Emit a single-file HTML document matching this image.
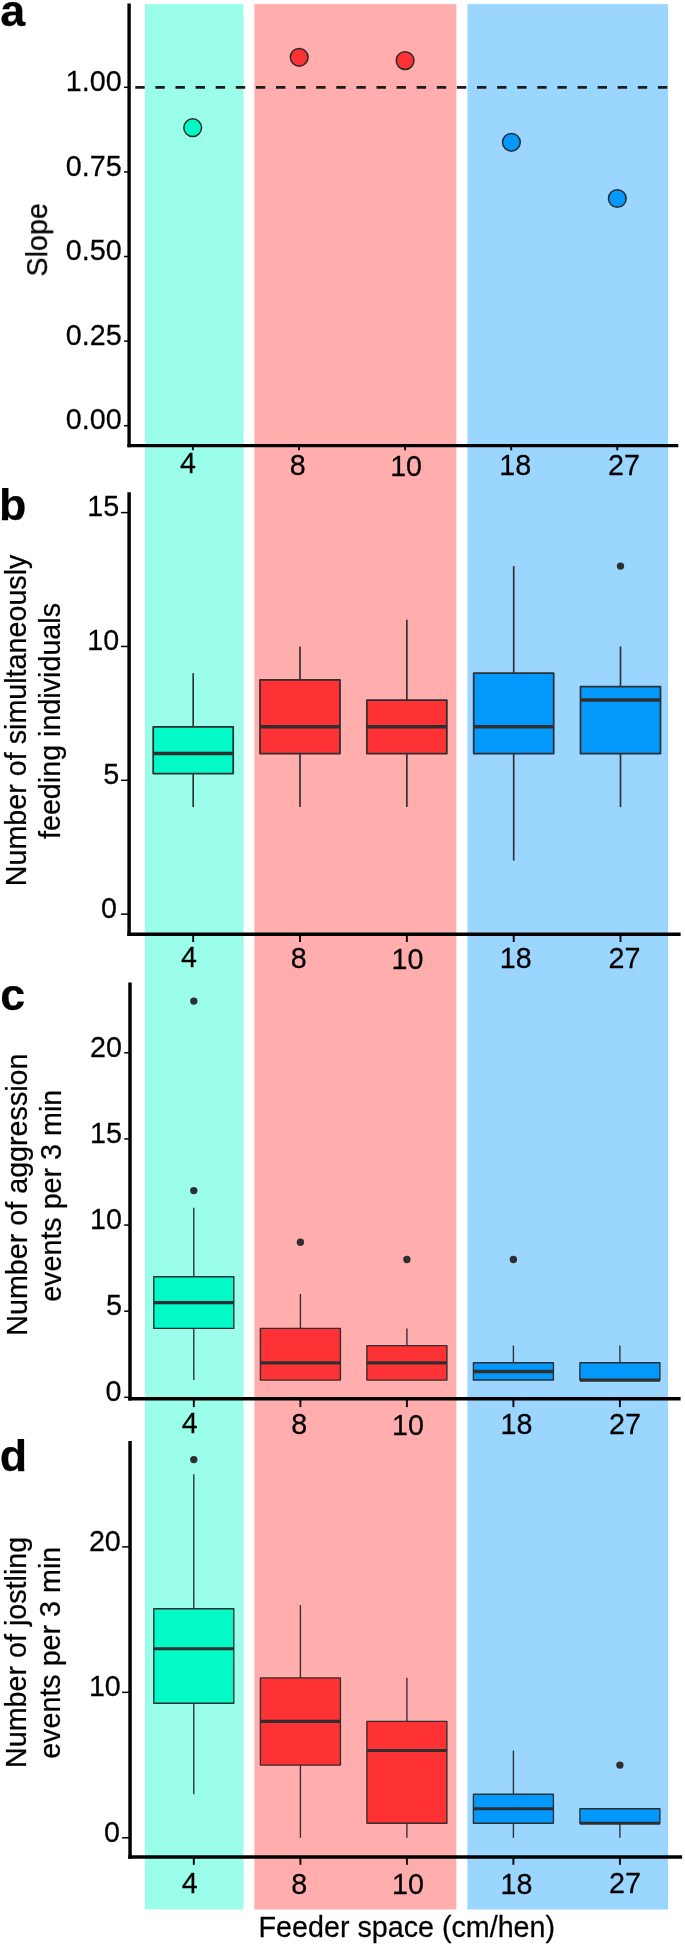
<!DOCTYPE html>
<html><head><meta charset="utf-8"><title>Figure</title>
<style>html,body{margin:0;padding:0;background:#fff}body{width:685px;height:1947px;overflow:hidden}</style>
</head><body>
<svg width="685" height="1947" viewBox="0 0 685 1947" style="display:block">
<rect width="685" height="1947" fill="#fff"/>
<rect x="144.9" y="4.1" width="98.6" height="1905.4" fill="#9afeea"/>
<rect x="254.4" y="4.1" width="202.0" height="1905.4" fill="#ffadad"/>
<rect x="467.4" y="4.1" width="200.7" height="1905.4" fill="#9ad6ff"/>
<g font-family="'Liberation Sans', sans-serif" fill="#000" opacity="0.999" stroke-linejoin="round">
<line x1="129.10" y1="3.50" x2="129.10" y2="447.35" stroke="#000" stroke-width="3.40"/>
<line x1="127.40" y1="445.70" x2="678.30" y2="445.70" stroke="#000" stroke-width="3.30"/>
<line x1="124.0" y1="87.30" x2="129.1" y2="87.30" stroke="#000" stroke-width="1.5"/>
<text transform="translate(121.60 91.00) scale(1 1.040)" text-anchor="end" font-size="28.70" font-weight="normal" stroke="#000" stroke-width="0.25">1.00</text>
<line x1="124.0" y1="171.90" x2="129.1" y2="171.90" stroke="#000" stroke-width="1.5"/>
<text transform="translate(121.60 175.60) scale(1 1.040)" text-anchor="end" font-size="28.70" font-weight="normal" stroke="#000" stroke-width="0.25">0.75</text>
<line x1="124.0" y1="256.50" x2="129.1" y2="256.50" stroke="#000" stroke-width="1.5"/>
<text transform="translate(121.60 260.20) scale(1 1.040)" text-anchor="end" font-size="28.70" font-weight="normal" stroke="#000" stroke-width="0.25">0.50</text>
<line x1="124.0" y1="341.10" x2="129.1" y2="341.10" stroke="#000" stroke-width="1.5"/>
<text transform="translate(121.60 344.80) scale(1 1.040)" text-anchor="end" font-size="28.70" font-weight="normal" stroke="#000" stroke-width="0.25">0.25</text>
<line x1="124.0" y1="425.70" x2="129.1" y2="425.70" stroke="#000" stroke-width="1.5"/>
<text transform="translate(121.60 429.40) scale(1 1.040)" text-anchor="end" font-size="28.70" font-weight="normal" stroke="#000" stroke-width="0.25">0.00</text>
<line x1="192.90" y1="445.7" x2="192.90" y2="450.3" stroke="#000" stroke-width="1.9"/>
<text transform="translate(188.00 473.30) scale(1 1.040)" text-anchor="middle" font-size="28.70" font-weight="normal" stroke="#000" stroke-width="0.25">4</text>
<line x1="299.00" y1="445.7" x2="299.00" y2="450.3" stroke="#000" stroke-width="1.9"/>
<text transform="translate(297.80 474.70) scale(1 1.040)" text-anchor="middle" font-size="28.70" font-weight="normal" stroke="#000" stroke-width="0.25">8</text>
<line x1="405.10" y1="445.7" x2="405.10" y2="450.3" stroke="#000" stroke-width="1.9"/>
<text transform="translate(406.10 476.10) scale(1 1.040)" text-anchor="middle" font-size="28.70" font-weight="normal" stroke="#000" stroke-width="0.25">10</text>
<line x1="511.20" y1="445.7" x2="511.20" y2="450.3" stroke="#000" stroke-width="1.9"/>
<text transform="translate(515.30 474.70) scale(1 1.040)" text-anchor="middle" font-size="28.70" font-weight="normal" stroke="#000" stroke-width="0.25">18</text>
<line x1="617.30" y1="445.7" x2="617.30" y2="450.3" stroke="#000" stroke-width="1.9"/>
<text transform="translate(624.00 474.70) scale(1 1.040)" text-anchor="middle" font-size="28.70" font-weight="normal" stroke="#000" stroke-width="0.25">27</text>
<text transform="translate(0.30 25.50) scale(1 1.000)" text-anchor="start" font-size="44.80" font-weight="bold" stroke="#000" stroke-width="0.25">a</text>
<line x1="129.10" y1="492.20" x2="129.10" y2="936.00" stroke="#000" stroke-width="3.50"/>
<line x1="127.35" y1="934.25" x2="680.60" y2="934.25" stroke="#000" stroke-width="3.50"/>
<line x1="121.0" y1="512.60" x2="129.1" y2="512.60" stroke="#000" stroke-width="1.5"/>
<text transform="translate(119.20 516.30) scale(1 1.040)" text-anchor="end" font-size="28.70" font-weight="normal" stroke="#000" stroke-width="0.25">15</text>
<line x1="121.0" y1="646.45" x2="129.1" y2="646.45" stroke="#000" stroke-width="1.5"/>
<text transform="translate(119.20 650.15) scale(1 1.040)" text-anchor="end" font-size="28.70" font-weight="normal" stroke="#000" stroke-width="0.25">10</text>
<line x1="121.0" y1="780.30" x2="129.1" y2="780.30" stroke="#000" stroke-width="1.5"/>
<text transform="translate(119.20 784.00) scale(1 1.040)" text-anchor="end" font-size="28.70" font-weight="normal" stroke="#000" stroke-width="0.25">5</text>
<line x1="121.0" y1="914.15" x2="129.1" y2="914.15" stroke="#000" stroke-width="1.5"/>
<text transform="translate(117.00 917.85) scale(1 1.040)" text-anchor="end" font-size="28.70" font-weight="normal" stroke="#000" stroke-width="0.25">0</text>
<line x1="193.20" y1="934.2" x2="193.20" y2="942.0" stroke="#000" stroke-width="1.9"/>
<text transform="translate(189.10 966.50) scale(1 1.040)" text-anchor="middle" font-size="28.70" font-weight="normal" stroke="#000" stroke-width="0.25">4</text>
<line x1="300.00" y1="934.2" x2="300.00" y2="942.0" stroke="#000" stroke-width="1.9"/>
<text transform="translate(298.80 967.70) scale(1 1.040)" text-anchor="middle" font-size="28.70" font-weight="normal" stroke="#000" stroke-width="0.25">8</text>
<line x1="406.85" y1="934.2" x2="406.85" y2="942.0" stroke="#000" stroke-width="1.9"/>
<text transform="translate(407.40 969.20) scale(1 1.040)" text-anchor="middle" font-size="28.70" font-weight="normal" stroke="#000" stroke-width="0.25">10</text>
<line x1="513.70" y1="934.2" x2="513.70" y2="942.0" stroke="#000" stroke-width="1.9"/>
<text transform="translate(515.70 967.70) scale(1 1.040)" text-anchor="middle" font-size="28.70" font-weight="normal" stroke="#000" stroke-width="0.25">18</text>
<line x1="620.50" y1="934.2" x2="620.50" y2="942.0" stroke="#000" stroke-width="1.9"/>
<text transform="translate(624.50 967.50) scale(1 1.040)" text-anchor="middle" font-size="28.70" font-weight="normal" stroke="#000" stroke-width="0.25">27</text>
<text transform="translate(-0.90 519.60) scale(1 1.000)" text-anchor="start" font-size="44.80" font-weight="bold" stroke="#000" stroke-width="0.25">b</text>
<line x1="130.00" y1="982.40" x2="130.00" y2="1400.40" stroke="#000" stroke-width="3.50"/>
<line x1="128.25" y1="1398.65" x2="680.60" y2="1398.65" stroke="#000" stroke-width="3.50"/>
<line x1="124.2" y1="1052.80" x2="130.0" y2="1052.80" stroke="#000" stroke-width="1.5"/>
<text transform="translate(122.00 1056.50) scale(1 1.040)" text-anchor="end" font-size="28.70" font-weight="normal" stroke="#000" stroke-width="0.25">20</text>
<line x1="124.2" y1="1138.92" x2="130.0" y2="1138.92" stroke="#000" stroke-width="1.5"/>
<text transform="translate(122.00 1142.62) scale(1 1.040)" text-anchor="end" font-size="28.70" font-weight="normal" stroke="#000" stroke-width="0.25">15</text>
<line x1="124.2" y1="1225.05" x2="130.0" y2="1225.05" stroke="#000" stroke-width="1.5"/>
<text transform="translate(122.00 1228.75) scale(1 1.040)" text-anchor="end" font-size="28.70" font-weight="normal" stroke="#000" stroke-width="0.25">10</text>
<line x1="124.2" y1="1311.17" x2="130.0" y2="1311.17" stroke="#000" stroke-width="1.5"/>
<text transform="translate(122.00 1314.88) scale(1 1.040)" text-anchor="end" font-size="28.70" font-weight="normal" stroke="#000" stroke-width="0.25">5</text>
<line x1="124.2" y1="1397.30" x2="130.0" y2="1397.30" stroke="#000" stroke-width="1.5"/>
<text transform="translate(121.40 1401.00) scale(1 1.040)" text-anchor="end" font-size="28.70" font-weight="normal" stroke="#000" stroke-width="0.25">0</text>
<line x1="193.80" y1="1398.7" x2="193.80" y2="1407.1" stroke="#000" stroke-width="1.9"/>
<text transform="translate(189.70 1433.20) scale(1 1.040)" text-anchor="middle" font-size="28.70" font-weight="normal" stroke="#000" stroke-width="0.25">4</text>
<line x1="300.40" y1="1398.7" x2="300.40" y2="1407.1" stroke="#000" stroke-width="1.9"/>
<text transform="translate(299.30 1434.30) scale(1 1.040)" text-anchor="middle" font-size="28.70" font-weight="normal" stroke="#000" stroke-width="0.25">8</text>
<line x1="406.90" y1="1398.7" x2="406.90" y2="1407.1" stroke="#000" stroke-width="1.9"/>
<text transform="translate(408.00 1435.00) scale(1 1.040)" text-anchor="middle" font-size="28.70" font-weight="normal" stroke="#000" stroke-width="0.25">10</text>
<line x1="513.40" y1="1398.7" x2="513.40" y2="1407.1" stroke="#000" stroke-width="1.9"/>
<text transform="translate(516.40 1433.80) scale(1 1.040)" text-anchor="middle" font-size="28.70" font-weight="normal" stroke="#000" stroke-width="0.25">18</text>
<line x1="619.90" y1="1398.7" x2="619.90" y2="1407.1" stroke="#000" stroke-width="1.9"/>
<text transform="translate(624.90 1433.80) scale(1 1.040)" text-anchor="middle" font-size="28.70" font-weight="normal" stroke="#000" stroke-width="0.25">27</text>
<text transform="translate(0.30 1009.60) scale(1 1.000)" text-anchor="start" font-size="44.80" font-weight="bold" stroke="#000" stroke-width="0.25">c</text>
<line x1="130.05" y1="1441.10" x2="130.05" y2="1858.73" stroke="#000" stroke-width="3.50"/>
<line x1="128.30" y1="1856.95" x2="682.10" y2="1856.95" stroke="#000" stroke-width="3.55"/>
<line x1="122.1" y1="1546.90" x2="130.1" y2="1546.90" stroke="#000" stroke-width="1.5"/>
<text transform="translate(120.80 1550.60) scale(1 1.040)" text-anchor="end" font-size="28.70" font-weight="normal" stroke="#000" stroke-width="0.25">20</text>
<line x1="122.1" y1="1692.35" x2="130.1" y2="1692.35" stroke="#000" stroke-width="1.5"/>
<text transform="translate(120.80 1696.05) scale(1 1.040)" text-anchor="end" font-size="28.70" font-weight="normal" stroke="#000" stroke-width="0.25">10</text>
<line x1="122.1" y1="1837.80" x2="130.1" y2="1837.80" stroke="#000" stroke-width="1.5"/>
<text transform="translate(120.00 1841.50) scale(1 1.040)" text-anchor="end" font-size="28.70" font-weight="normal" stroke="#000" stroke-width="0.25">0</text>
<line x1="193.80" y1="1857.0" x2="193.80" y2="1864.8" stroke="#000" stroke-width="1.9"/>
<text transform="translate(189.70 1892.60) scale(1 1.040)" text-anchor="middle" font-size="28.70" font-weight="normal" stroke="#000" stroke-width="0.25">4</text>
<line x1="300.40" y1="1857.0" x2="300.40" y2="1864.8" stroke="#000" stroke-width="1.9"/>
<text transform="translate(299.30 1893.70) scale(1 1.040)" text-anchor="middle" font-size="28.70" font-weight="normal" stroke="#000" stroke-width="0.25">8</text>
<line x1="406.90" y1="1857.0" x2="406.90" y2="1864.8" stroke="#000" stroke-width="1.9"/>
<text transform="translate(408.00 1894.40) scale(1 1.040)" text-anchor="middle" font-size="28.70" font-weight="normal" stroke="#000" stroke-width="0.25">10</text>
<line x1="513.40" y1="1857.0" x2="513.40" y2="1864.8" stroke="#000" stroke-width="1.9"/>
<text transform="translate(516.40 1893.50) scale(1 1.040)" text-anchor="middle" font-size="28.70" font-weight="normal" stroke="#000" stroke-width="0.25">18</text>
<line x1="619.90" y1="1857.0" x2="619.90" y2="1864.8" stroke="#000" stroke-width="1.9"/>
<text transform="translate(624.90 1893.20) scale(1 1.040)" text-anchor="middle" font-size="28.70" font-weight="normal" stroke="#000" stroke-width="0.25">27</text>
<text transform="translate(-0.30 1471.40) scale(1 1.000)" text-anchor="start" font-size="44.80" font-weight="bold" stroke="#000" stroke-width="0.25">d</text>
<line x1="135.3" y1="87.4" x2="668" y2="87.4" stroke="#1c1c1c" stroke-width="2.8" stroke-dasharray="9.4 10.7"/>
<circle cx="192.7" cy="127.7" r="8.85" fill="#02fac7" stroke="#2a2a2a" stroke-width="1.5"/>
<circle cx="299.2" cy="57.3" r="8.85" fill="#fe3235" stroke="#2a2a2a" stroke-width="1.5"/>
<circle cx="405.1" cy="60.6" r="8.85" fill="#fe3235" stroke="#2a2a2a" stroke-width="1.5"/>
<circle cx="511.4" cy="142.3" r="8.85" fill="#0399fc" stroke="#2a2a2a" stroke-width="1.5"/>
<circle cx="617.3" cy="198.5" r="8.85" fill="#0399fc" stroke="#2a2a2a" stroke-width="1.5"/>
<text transform="translate(47.10 239.80) rotate(-90)" text-anchor="middle" font-size="28.70" stroke="#000" stroke-width="0.25">Slope</text>
<line x1="193.20" y1="673.2" x2="193.20" y2="726.8" stroke="#2f2f2f" stroke-width="1.65"/>
<line x1="193.20" y1="773.6" x2="193.20" y2="807.1" stroke="#2f2f2f" stroke-width="1.65"/>
<rect x="153.20" y="726.8" width="80.0" height="46.8" fill="#02fac7" stroke="#2f2f2f" stroke-width="1.75"/>
<line x1="153.20" y1="753.5" x2="233.20" y2="753.5" stroke="#2f2f2f" stroke-width="3.50"/>
<line x1="300.00" y1="646.5" x2="300.00" y2="679.9" stroke="#2f2f2f" stroke-width="1.65"/>
<line x1="300.00" y1="753.5" x2="300.00" y2="807.1" stroke="#2f2f2f" stroke-width="1.65"/>
<rect x="260.00" y="679.9" width="80.0" height="73.6" fill="#fe3235" stroke="#2f2f2f" stroke-width="1.75"/>
<line x1="260.00" y1="726.8" x2="340.00" y2="726.8" stroke="#2f2f2f" stroke-width="3.50"/>
<line x1="406.85" y1="619.7" x2="406.85" y2="700.0" stroke="#2f2f2f" stroke-width="1.65"/>
<line x1="406.85" y1="753.5" x2="406.85" y2="807.1" stroke="#2f2f2f" stroke-width="1.65"/>
<rect x="366.85" y="700.0" width="80.0" height="53.5" fill="#fe3235" stroke="#2f2f2f" stroke-width="1.75"/>
<line x1="366.85" y1="726.8" x2="446.85" y2="726.8" stroke="#2f2f2f" stroke-width="3.50"/>
<line x1="513.70" y1="566.1" x2="513.70" y2="673.2" stroke="#2f2f2f" stroke-width="1.65"/>
<line x1="513.70" y1="753.5" x2="513.70" y2="860.6" stroke="#2f2f2f" stroke-width="1.65"/>
<rect x="473.70" y="673.2" width="80.0" height="80.3" fill="#0399fc" stroke="#2f2f2f" stroke-width="1.75"/>
<line x1="473.70" y1="726.8" x2="553.70" y2="726.8" stroke="#2f2f2f" stroke-width="3.50"/>
<line x1="620.50" y1="646.5" x2="620.50" y2="686.6" stroke="#2f2f2f" stroke-width="1.65"/>
<line x1="620.50" y1="753.5" x2="620.50" y2="807.1" stroke="#2f2f2f" stroke-width="1.65"/>
<rect x="580.50" y="686.6" width="80.0" height="66.9" fill="#0399fc" stroke="#2f2f2f" stroke-width="1.75"/>
<line x1="580.50" y1="700.0" x2="660.50" y2="700.0" stroke="#2f2f2f" stroke-width="3.50"/>
<circle cx="620.50" cy="566.1" r="3.7" fill="#2f2f2f"/>
<text transform="translate(25.80 720.40) rotate(-90)" text-anchor="middle" font-size="28.70" stroke="#000" stroke-width="0.25">Number of simultaneously</text>
<text transform="translate(59.80 721.00) rotate(-90)" text-anchor="middle" font-size="28.70" stroke="#000" stroke-width="0.25">feeding individuals</text>
<line x1="193.80" y1="1207.8" x2="193.80" y2="1276.7" stroke="#2f2f2f" stroke-width="1.35"/>
<line x1="193.80" y1="1328.4" x2="193.80" y2="1380.1" stroke="#2f2f2f" stroke-width="1.35"/>
<rect x="153.80" y="1276.7" width="80.0" height="51.7" fill="#02fac7" stroke="#2f2f2f" stroke-width="1.40"/>
<line x1="153.80" y1="1302.6" x2="233.80" y2="1302.6" stroke="#2f2f2f" stroke-width="3.30"/>
<circle cx="193.80" cy="1190.6" r="3.7" fill="#2f2f2f"/>
<circle cx="193.80" cy="1001.1" r="3.7" fill="#2f2f2f"/>
<line x1="300.40" y1="1294.0" x2="300.40" y2="1328.4" stroke="#2f2f2f" stroke-width="1.35"/>
<line x1="300.40" y1="1380.1" x2="300.40" y2="1380.1" stroke="#2f2f2f" stroke-width="1.35"/>
<rect x="260.40" y="1328.4" width="80.0" height="51.7" fill="#fe3235" stroke="#2f2f2f" stroke-width="1.40"/>
<line x1="260.40" y1="1362.8" x2="340.40" y2="1362.8" stroke="#2f2f2f" stroke-width="3.30"/>
<circle cx="300.40" cy="1242.3" r="3.7" fill="#2f2f2f"/>
<line x1="406.90" y1="1328.4" x2="406.90" y2="1345.6" stroke="#2f2f2f" stroke-width="1.35"/>
<line x1="406.90" y1="1380.1" x2="406.90" y2="1380.1" stroke="#2f2f2f" stroke-width="1.35"/>
<rect x="366.90" y="1345.6" width="80.0" height="34.5" fill="#fe3235" stroke="#2f2f2f" stroke-width="1.40"/>
<line x1="366.90" y1="1362.8" x2="446.90" y2="1362.8" stroke="#2f2f2f" stroke-width="3.30"/>
<circle cx="406.90" cy="1259.5" r="3.7" fill="#2f2f2f"/>
<line x1="513.40" y1="1345.6" x2="513.40" y2="1362.8" stroke="#2f2f2f" stroke-width="1.35"/>
<line x1="513.40" y1="1380.1" x2="513.40" y2="1380.1" stroke="#2f2f2f" stroke-width="1.35"/>
<rect x="473.40" y="1362.8" width="80.0" height="17.2" fill="#0399fc" stroke="#2f2f2f" stroke-width="1.40"/>
<line x1="473.40" y1="1371.5" x2="553.40" y2="1371.5" stroke="#2f2f2f" stroke-width="3.30"/>
<circle cx="513.40" cy="1259.5" r="3.7" fill="#2f2f2f"/>
<line x1="619.90" y1="1345.6" x2="619.90" y2="1362.8" stroke="#2f2f2f" stroke-width="1.35"/>
<line x1="619.90" y1="1380.1" x2="619.90" y2="1380.1" stroke="#2f2f2f" stroke-width="1.35"/>
<rect x="579.90" y="1362.8" width="80.0" height="17.2" fill="#0399fc" stroke="#2f2f2f" stroke-width="1.40"/>
<line x1="579.90" y1="1380.1" x2="659.90" y2="1380.1" stroke="#2f2f2f" stroke-width="3.30"/>
<text transform="translate(27.10 1194.60) rotate(-90)" text-anchor="middle" font-size="28.70" stroke="#000" stroke-width="0.25">Number of aggression</text>
<text transform="translate(60.60 1195.80) rotate(-90)" text-anchor="middle" font-size="28.70" stroke="#000" stroke-width="0.25">events per 3 min</text>
<line x1="193.80" y1="1474.2" x2="193.80" y2="1608.7" stroke="#2f2f2f" stroke-width="1.35"/>
<line x1="193.80" y1="1703.3" x2="193.80" y2="1794.2" stroke="#2f2f2f" stroke-width="1.35"/>
<rect x="153.80" y="1608.7" width="80.0" height="94.5" fill="#02fac7" stroke="#2f2f2f" stroke-width="1.35"/>
<line x1="153.80" y1="1648.7" x2="233.80" y2="1648.7" stroke="#2f2f2f" stroke-width="3.10"/>
<circle cx="193.80" cy="1459.6" r="3.7" fill="#2f2f2f"/>
<line x1="300.40" y1="1605.1" x2="300.40" y2="1677.8" stroke="#2f2f2f" stroke-width="1.35"/>
<line x1="300.40" y1="1765.1" x2="300.40" y2="1837.8" stroke="#2f2f2f" stroke-width="1.35"/>
<rect x="260.40" y="1677.8" width="80.0" height="87.3" fill="#fe3235" stroke="#2f2f2f" stroke-width="1.35"/>
<line x1="260.40" y1="1721.4" x2="340.40" y2="1721.4" stroke="#2f2f2f" stroke-width="3.10"/>
<line x1="406.90" y1="1677.8" x2="406.90" y2="1721.4" stroke="#2f2f2f" stroke-width="1.35"/>
<line x1="406.90" y1="1823.3" x2="406.90" y2="1837.8" stroke="#2f2f2f" stroke-width="1.35"/>
<rect x="366.90" y="1721.4" width="80.0" height="101.8" fill="#fe3235" stroke="#2f2f2f" stroke-width="1.35"/>
<line x1="366.90" y1="1750.5" x2="446.90" y2="1750.5" stroke="#2f2f2f" stroke-width="3.10"/>
<line x1="513.40" y1="1750.5" x2="513.40" y2="1794.2" stroke="#2f2f2f" stroke-width="1.35"/>
<line x1="513.40" y1="1823.3" x2="513.40" y2="1837.8" stroke="#2f2f2f" stroke-width="1.35"/>
<rect x="473.40" y="1794.2" width="80.0" height="29.1" fill="#0399fc" stroke="#2f2f2f" stroke-width="1.35"/>
<line x1="473.40" y1="1808.7" x2="553.40" y2="1808.7" stroke="#2f2f2f" stroke-width="3.10"/>
<line x1="619.90" y1="1823.3" x2="619.90" y2="1808.7" stroke="#2f2f2f" stroke-width="1.35"/>
<line x1="619.90" y1="1823.3" x2="619.90" y2="1837.8" stroke="#2f2f2f" stroke-width="1.35"/>
<rect x="579.90" y="1808.7" width="80.0" height="14.5" fill="#0399fc" stroke="#2f2f2f" stroke-width="1.35"/>
<line x1="579.90" y1="1823.3" x2="659.90" y2="1823.3" stroke="#2f2f2f" stroke-width="3.10"/>
<circle cx="619.90" cy="1765.1" r="3.7" fill="#2f2f2f"/>
<text transform="translate(25.80 1652.40) rotate(-90)" text-anchor="middle" font-size="28.70" stroke="#000" stroke-width="0.25">Number of jostling</text>
<text transform="translate(60.30 1652.80) rotate(-90)" text-anchor="middle" font-size="28.70" stroke="#000" stroke-width="0.25">events per 3 min</text>
<text transform="translate(406.80 1937.20) scale(1 1.020)" text-anchor="middle" font-size="28.70" font-weight="normal" stroke="#000" stroke-width="0.25">Feeder space (cm/hen)</text>
</g>
</svg>
</body></html>
